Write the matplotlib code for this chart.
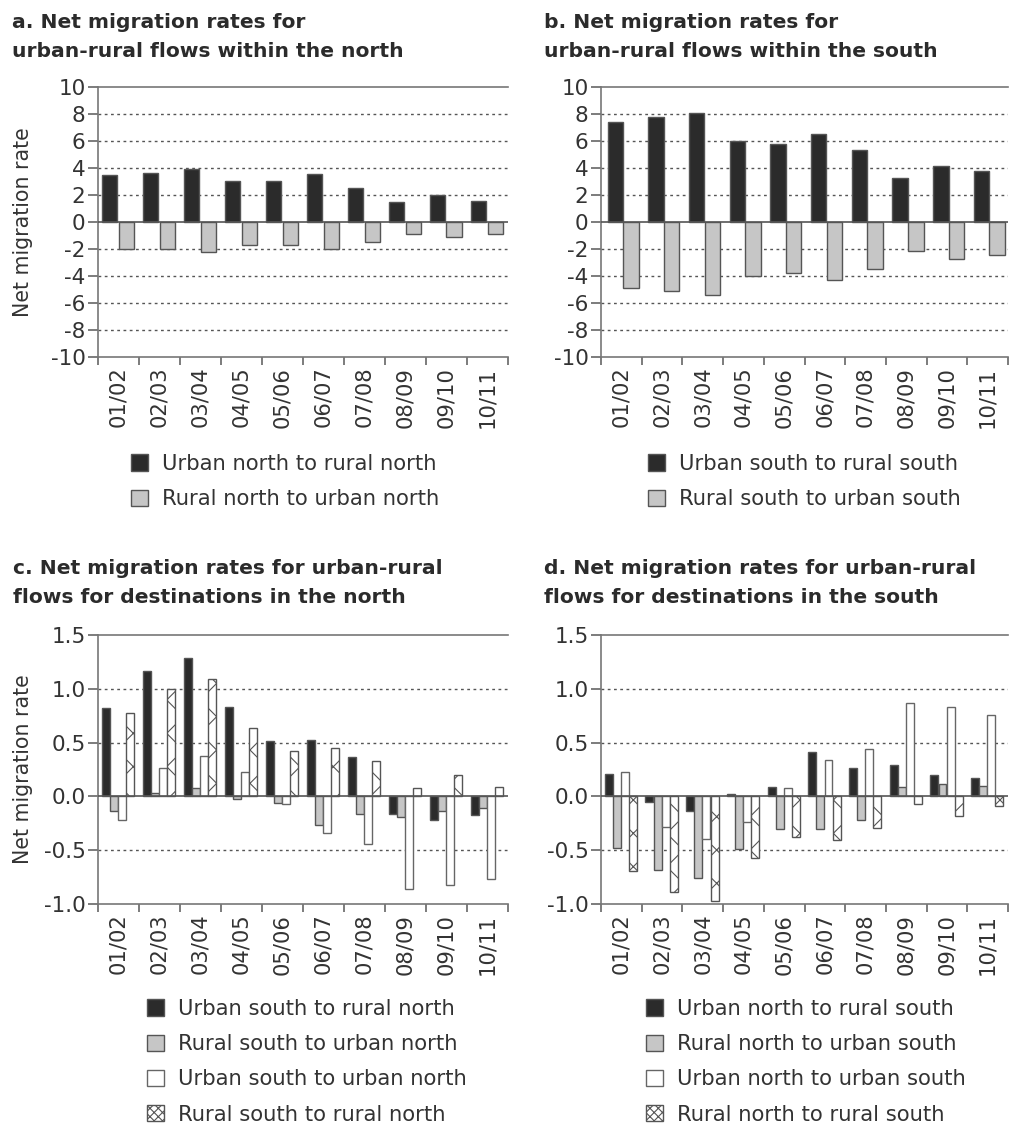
import numpy as np
import matplotlib.pyplot as plt
from matplotlib.patches import Patch
from matplotlib.ticker import FixedLocator

plt.rcParams['font.family'] = ['DejaVu Sans']
plt.rcParams['text.color'] = '#333333'
plt.rcParams['axes.labelcolor'] = '#333333'
plt.rcParams['xtick.color'] = '#666666'
plt.rcParams['ytick.color'] = '#666666'
plt.rcParams['xtick.labelcolor'] = '#333333'
plt.rcParams['ytick.labelcolor'] = '#333333'
plt.rcParams['hatch.linewidth'] = 0.8

years = ['01/02', '02/03', '03/04', '04/05', '05/06', '06/07', '07/08', '08/09', '09/10', '10/11']

# panel a: within the north
a_urban_rural = [3.50, 3.63, 3.93, 3.06, 3.04, 3.58, 2.54, 1.48, 1.98, 1.56]
a_rural_urban = [-1.98, -2.02, -2.20, -1.73, -1.73, -2.02, -1.46, -0.86, -1.14, -0.89]

# panel b: within the south
b_urban_rural = [7.41, 7.78, 8.10, 5.98, 5.75, 6.49, 5.31, 3.26, 4.15, 3.75]
b_rural_urban = [-4.86, -5.14, -5.38, -3.98, -3.80, -4.30, -3.50, -2.17, -2.74, -2.42]

# panel c: destinations in the north
c_urban_rural = [0.826, 1.168, 1.286, 0.829, 0.519, 0.525, 0.366, -0.161, -0.217, -0.171]
c_rural_urban = [-0.137, 0.031, 0.078, -0.022, -0.059, -0.267, -0.168, -0.189, -0.134, -0.112]
c_urban_urban = [-0.220, 0.261, 0.373, 0.224, -0.075, -0.339, -0.438, -0.860, -0.823, -0.764]
c_rural_rural = [0.773, 0.994, 1.093, 0.640, 0.419, 0.453, 0.326, 0.078, 0.199, 0.090]

# panel d: destinations in the south
d_urban_rural = [0.211, -0.056, -0.134, 0.022, 0.087, 0.410, 0.261, 0.289, 0.202, 0.171]
d_rural_urban = [-0.484, -0.683, -0.755, -0.488, -0.307, -0.307, -0.217, 0.090, 0.118, 0.093]
d_urban_urban = [0.224, -0.280, -0.394, -0.239, 0.075, 0.339, 0.444, 0.870, 0.829, 0.758]
d_rural_rural = [-0.693, -0.885, -0.975, -0.571, -0.376, -0.407, -0.295, -0.075, -0.180, -0.087]

titles = [['a. Net migration rates for', 'urban-rural flows within the north'],
          ['b. Net migration rates for', 'urban-rural flows within the south'],
          ['c. Net migration rates for urban-rural', 'flows for destinations in the north'],
          ['d. Net migration rates for urban-rural', 'flows for destinations in the south']]
labels_a = ['Urban north to rural north', 'Rural north to urban north']
labels_b = ['Urban south to rural south', 'Rural south to urban south']
labels_c = ['Urban south to rural north', 'Rural south to urban north',
            'Urban south to urban north', 'Rural south to rural north']
labels_d = ['Urban north to rural south', 'Rural north to urban south',
            'Urban north to urban south', 'Rural north to rural south']

FS = 15.2
W, H = 1010, 1128
fig = plt.figure(figsize=(W / 100, H / 100), dpi=100)

styles = [dict(color='#2b2b2b', edgecolor='#555555'),
          dict(color='#c6c6c6', edgecolor='#555555'),
          dict(color='white', edgecolor='#666666'),
          dict(color='white', edgecolor='#555555', hatch='x')]


def px_axes(l, t, r, b):
    return fig.add_axes([l / W, 1 - b / H, (r - l) / W, (b - t) / H])


def setup(ax, ylim, yticks, fmt, grid):
    x = np.arange(len(years))
    ax.set_xlim(-0.5, len(years) - 0.5)
    ax.set_ylim(*ylim)
    ax.set_xticks(x)
    ax.set_xticklabels(years, rotation=90, fontsize=FS)
    ax.xaxis.set_minor_locator(FixedLocator(np.arange(len(years) + 1) - 0.5))
    ax.tick_params(axis='x', which='major', length=0, pad=7)
    ax.tick_params(axis='x', which='minor', length=6, width=1.2, direction='out')
    ax.set_yticks(yticks)
    ax.set_yticklabels([fmt(v) for v in yticks], fontsize=15.5)
    ax.tick_params(axis='y', length=7, width=1.2, pad=2)
    for g in grid:
        ax.axhline(g, color='#555555', lw=1, ls=(0, (2, 2.5)), zorder=0)
    ax.axhline(0, color='#555555', lw=1.2, zorder=3)
    for s in ['left', 'bottom', 'top']:
        ax.spines[s].set_color('#777777')
        ax.spines[s].set_linewidth(1.2)
    ax.spines['right'].set_visible(False)


def bars(ax, series, offsets, width):
    x = np.arange(len(years))
    for k, vals in enumerate(series):
        ax.bar(x + offsets[k], vals, width, linewidth=1, zorder=2, **styles[k])


def legend(ax, labels, lx, ty):
    handles = []
    for k in range(len(labels)):
        st = dict(styles[k])
        st['facecolor'] = st.pop('color')
        if 'hatch' in st:
            st['hatch'] = 'xxxx'
        handles.append(Patch(linewidth=1, **st))
    ax.legend(handles, labels, loc='upper left', bbox_to_anchor=(lx / W, 1 - ty / H),
              bbox_transform=fig.transFigure, frameon=False, fontsize=FS,
              handlelength=0.82, handleheight=0.82, handletextpad=0.65,
              labelspacing=0.72, borderpad=0, borderaxespad=0)


ticks_ab = list(range(-10, 11, 2))
grid_ab = [v for v in ticks_ab if v not in (-10, 0, 10)]
ticks_cd = [-1.0, -0.5, 0.0, 0.5, 1.0, 1.5]
grid_cd = [-0.5, 0.5, 1.0]

ax_a = px_axes(98, 87, 508, 357)
setup(ax_a, (-10, 10), ticks_ab, lambda v: str(v), grid_ab)
bars(ax_a, [a_urban_rural, a_rural_urban], [-0.22, 0.19], 0.38)
legend(ax_a, labels_a, 131, 454)
ax_a.set_ylabel('Net migration rate', fontsize=14.8)
ax_a.yaxis.set_label_coords(-0.158, 0.5)

ax_b = px_axes(601, 87, 1008, 357)
setup(ax_b, (-10, 10), ticks_ab, lambda v: str(v), grid_ab)
bars(ax_b, [b_urban_rural, b_rural_urban], [-0.15, 0.235], 0.38)
legend(ax_b, labels_b, 648, 454)

ax_c = px_axes(98, 635, 508, 904)
setup(ax_c, (-1.0, 1.5), ticks_cd, lambda v: '%.1f' % v, grid_cd)
bars(ax_c, [c_urban_rural, c_rural_urban, c_urban_urban, c_rural_rural],
     [-0.316, -0.116, 0.084, 0.284], 0.195)
legend(ax_c, labels_c, 147, 999)
ax_c.set_ylabel('Net migration rate', fontsize=14.8)
ax_c.yaxis.set_label_coords(-0.158, 0.5)

ax_d = px_axes(601, 635, 1008, 904)
setup(ax_d, (-1.0, 1.5), ticks_cd, lambda v: '%.1f' % v, grid_cd)
bars(ax_d, [d_urban_rural, d_rural_urban, d_urban_urban, d_rural_rural],
     [-0.31, -0.11, 0.09, 0.29], 0.195)
legend(ax_d, labels_d, 646, 999)

for (tx, ty), lines in zip([(12, 27.7), (544, 27.7), (13, 574), (544, 574)], titles):
    for i, line in enumerate(lines):
        fig.text(tx / W, 1 - (ty + 29 * i) / H, line, fontsize=14.6, fontweight='bold',
                 color='#2b2b2b', va='baseline', ha='left')

fig.savefig('out.png', dpi=100)
